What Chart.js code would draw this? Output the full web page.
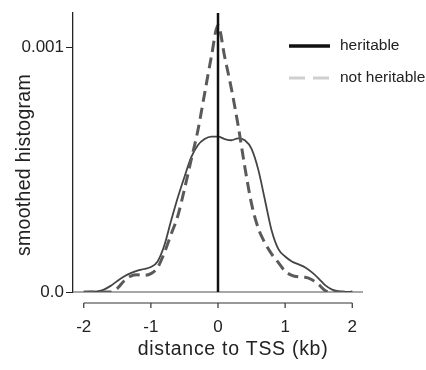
<!DOCTYPE html>
<html lang="en">
<head>
    <meta charset="UTF-8">
    <title>Smoothed histogram</title>
    <script src="https://cdn.jsdelivr.net/npm/chart.js"></script>
    <style>
        body { margin: 0; background: #fff; }
        #wrap { width: 426px; height: 370px; position: relative; }
    </style>
</head>
<body>
    <div id="wrap"><canvas id="chart"></canvas></div>

    <script>
        // distance to TSS (kb)
        const distances = [-2.0, -1.9, -1.8, -1.7, -1.6, -1.5, -1.4, -1.3, -1.2, -1.1, -1.0,
                           -0.9, -0.8, -0.7, -0.6, -0.5, -0.4, -0.3, -0.2, -0.1, 0.0,
                            0.1,  0.2,  0.3,  0.4,  0.5,  0.6,  0.7,  0.8,  0.9, 1.0,
                            1.1,  1.2,  1.3,  1.4,  1.5,  1.6,  1.7,  1.8,  1.9, 2.0];
        // values in units of 1e-3
        const heritable = [0, 0.001, 0.003, 0.01, 0.025, 0.045, 0.063, 0.077, 0.087, 0.094, 0.102,
                           0.125, 0.19, 0.29, 0.385, 0.47, 0.55, 0.60, 0.625, 0.635, 0.635,
                           0.625, 0.62, 0.628, 0.62, 0.585, 0.50, 0.375, 0.25, 0.175, 0.145,
                           0.125, 0.113, 0.10, 0.08, 0.055, 0.027, 0.01, 0.003, 0, 0];
        const notHeritable = [0, 0, 0, 0, 0, 0.015, 0.045, 0.065, 0.07, 0.068, 0.075,
                              0.1, 0.16, 0.235, 0.31, 0.42, 0.54, 0.66, 0.81, 0.96, 1.09,
                              0.96, 0.83, 0.68, 0.51, 0.36, 0.26, 0.20, 0.155, 0.12, 0.085,
                              0.068, 0.062, 0.06, 0.05, 0.03, 0.005, 0, 0, 0, 0];
        const seriesNames = ['heritable', 'not heritable'];
        const xTicks = [-2, -1, 0, 1, 2];
        const yTicks = [0, 0.001];
        const yTickLabels = ['0.0', '0.001'];
        const xTitle = 'distance to TSS (kb)';
        const yTitle = 'smoothed histogram';

        const toPoints = vals => distances.map((d, i) => ({ x: d, y: vals[i] / 1000 }));

        const textColor = '#222';
        const fontFamily = '"Liberation Sans", Arial, sans-serif';

        const extras = {
            id: 'extras',
            beforeDatasetsDraw(chart) {
                const { ctx, chartArea, scales } = chart;
                const y0 = scales.y.getPixelForValue(0);
                ctx.save();
                ctx.strokeStyle = '#8a8a8a';
                ctx.lineWidth = 1.5;
                ctx.beginPath();
                ctx.moveTo(chartArea.left, y0);
                ctx.lineTo(chartArea.right, y0);
                ctx.stroke();
                ctx.restore();
            },
            afterDatasetsDraw(chart) {
                const { ctx, chartArea, scales } = chart;
                const x0 = scales.x.getPixelForValue(0);
                ctx.save();
                ctx.strokeStyle = '#111';
                ctx.lineWidth = 2.5;
                ctx.beginPath();
                ctx.moveTo(x0, chartArea.top);
                ctx.lineTo(x0, scales.y.getPixelForValue(0));
                ctx.stroke();
                ctx.restore();
            },
            afterDraw(chart) {
                const { ctx, chartArea, scales } = chart;
                ctx.save();
                // detached x axis
                const ay = chartArea.bottom + 11;
                const xa = scales.x.getPixelForValue(xTicks[0]);
                const xb = scales.x.getPixelForValue(xTicks[xTicks.length - 1]);
                ctx.strokeStyle = '#333';
                ctx.lineWidth = 1.2;
                ctx.beginPath();
                ctx.moveTo(xa, ay);
                ctx.lineTo(xb, ay);
                xTicks.forEach(t => {
                    const px = scales.x.getPixelForValue(t);
                    ctx.moveTo(px, ay);
                    ctx.lineTo(px, ay + 5);
                });
                ctx.stroke();

                // axis titles
                ctx.fillStyle = textColor;
                ctx.textAlign = 'center';
                ctx.textBaseline = 'alphabetic';
                ctx.font = '19.5px ' + fontFamily;
                ctx.letterSpacing = '0.7px';
                ctx.fillText(xTitle, 233, 355);
                ctx.save();
                ctx.translate(30, 165);
                ctx.rotate(-Math.PI / 2);
                ctx.letterSpacing = '0.3px';
                ctx.fillText(yTitle, 0, 0);
                ctx.restore();
                ctx.letterSpacing = '0px';

                // legend
                ctx.lineWidth = 3.5;
                ctx.strokeStyle = '#111';
                ctx.beginPath();
                ctx.moveTo(289, 46);
                ctx.lineTo(330, 46);
                ctx.stroke();
                ctx.lineWidth = 3;
                ctx.strokeStyle = '#cfcfcf';
                ctx.setLineDash([16, 8]);
                ctx.beginPath();
                ctx.moveTo(289, 78);
                ctx.lineTo(330, 78);
                ctx.stroke();
                ctx.setLineDash([]);
                ctx.font = '15.5px ' + fontFamily;
                ctx.textBaseline = 'middle';
                ctx.textAlign = 'left';
                ctx.fillText(seriesNames[0], 340, 46);
                ctx.fillText(seriesNames[1], 340, 78);
                ctx.restore();
            }
        };

        new Chart(document.getElementById('chart'), {
            type: 'line',
            data: {
                datasets: [{
                    label: seriesNames[1],
                    data: toPoints(notHeritable),
                    borderColor: '#5a5a5a',
                    borderWidth: 3,
                    borderDash: [11, 6],
                    pointRadius: 0,
                    cubicInterpolationMode: 'monotone',
                    fill: false
                }, {
                    label: seriesNames[0],
                    data: toPoints(heritable),
                    borderColor: '#444',
                    borderWidth: 1.8,
                    pointRadius: 0,
                    cubicInterpolationMode: 'monotone',
                    fill: false
                }]
            },
            options: {
                responsive: true,
                maintainAspectRatio: false,
                animation: false,
                layout: { padding: { left: 0, top: 13, right: 63, bottom: 0 } },
                plugins: {
                    legend: { display: false },
                    tooltip: { enabled: false }
                },
                scales: {
                    x: {
                        type: 'linear',
                        min: -2.16,
                        max: 2.16,
                        afterFit: s => { s.height = 78; },
                        grid: { display: false, drawTicks: false },
                        border: { display: false },
                        ticks: {
                            stepSize: 1,
                            includeBounds: false,
                            padding: 25,
                            color: textColor,
                            maxRotation: 0,
                            font: { family: fontFamily, size: 17 }
                        }
                    },
                    y: {
                        min: 0,
                        max: 0.00114,
                        afterFit: s => { s.width = 73; },
                        afterBuildTicks: s => { s.ticks = yTicks.map(v => ({ value: v })); },
                        grid: { drawOnChartArea: false, drawTicks: true, tickLength: 7, color: textColor },
                        border: { display: true, color: textColor, width: 1.3 },
                        ticks: {
                            padding: 2,
                            color: textColor,
                            font: { family: fontFamily, size: 17 },
                            callback: (v) => yTickLabels[yTicks.indexOf(v)]
                        }
                    }
                }
            },
            plugins: [extras]
        });
    </script>
</body>
</html>
